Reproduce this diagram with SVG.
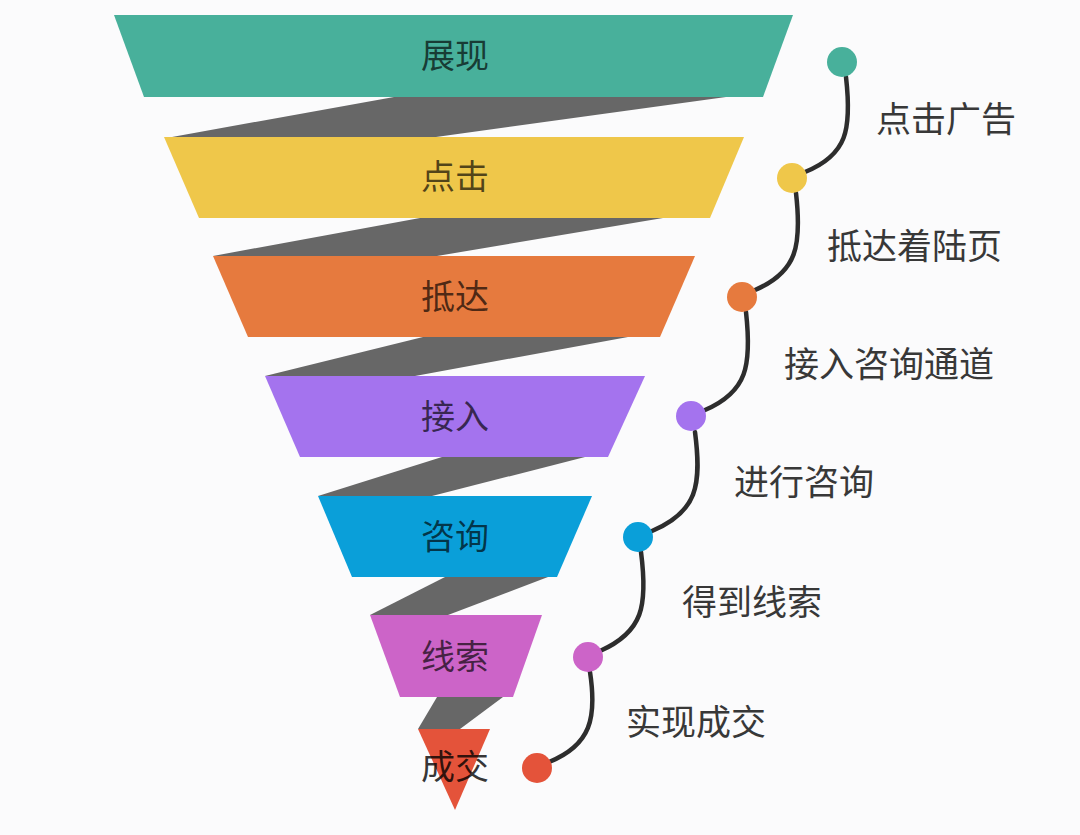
<svg xmlns="http://www.w3.org/2000/svg" width="1080" height="835" viewBox="0 0 1080 835">
  <style>
    .lbl { font-family: "Noto Sans CJK SC", "Noto Sans", sans-serif; font-size: 34px; text-anchor: middle; dominant-baseline: central; fill: #000; fill-opacity: 0.68; }
    .side { font-family: "Noto Sans CJK SC", "Noto Sans", sans-serif; font-size: 35px; text-anchor: start; dominant-baseline: central; fill: #383838; }
    .gray { fill: #676767; }
    .curve { fill: none; stroke: #2d2d2d; stroke-width: 4.5; stroke-linecap: round; }
  </style>
  <rect x="0" y="0" width="1080" height="835" fill="#fbfbfc"/>

  <g id="ribbons">
    <polygon class="gray" points="394,97 726,97 436,137 172,137"/>
    <polygon class="gray" points="420,218 663,218 437,256 213,256"/>
    <polygon class="gray" points="423,337 628,337 415,376 265,376"/>
    <polygon class="gray" points="442,457 585,457 432,496 318,496"/>
    <polygon class="gray" points="445,577 548,577 448,615 370,615"/>
    <polygon class="gray" points="437,697 503,697 460,729 418,729"/>
  </g>

  <g id="stage-zhanxian">
    <polygon points="114,15 793,15 763,97 144,97" fill="#48b09b"/>
    <text class="lbl" x="455" y="53">展现</text>
  </g>
  <g id="stage-dianji">
    <polygon points="164,137 744,137 710,218 199,218" fill="#efc74a"/>
    <text class="lbl" x="455" y="174">点击</text>
  </g>
  <g id="stage-dida">
    <polygon points="213,256 695,256 660,337 248,337" fill="#e67a3e"/>
    <text class="lbl" x="455" y="294">抵达</text>
  </g>
  <g id="stage-jieru">
    <polygon points="265,376 645,376 608,457 300,457" fill="#a473ee"/>
    <text class="lbl" x="455" y="414">接入</text>
  </g>
  <g id="stage-zixun">
    <polygon points="318,496 592,496 557,577 352,577" fill="#0a9fd9"/>
    <text class="lbl" x="455" y="534">咨询</text>
  </g>
  <g id="stage-xiansuo">
    <polygon points="370,615 542,615 513,697 400,697" fill="#cc64c8"/>
    <text class="lbl" x="455" y="654">线索</text>
  </g>
  <g id="stage-chengjiao">
    <polygon points="418,729 490,729 455,810" fill="#e4533a"/>
    <text class="lbl" x="455" y="764" style="fill-opacity:0.8">成交</text>
  </g>

  <g id="connectors">
    <path class="curve" d="M846,77 C852,130 847,155 805,172"/>
    <path class="curve" d="M796,193 C802,246 797,272 755,290"/>
    <path class="curve" d="M746,312 C752,366 747,392 705,410"/>
    <path class="curve" d="M695,432 C702,486 697,512 652,531"/>
    <path class="curve" d="M641,552 C648,606 643,632 600,651"/>
    <path class="curve" d="M590,672 C597,718 591,745 549,762"/>
  </g>

  <g id="step-dianjiguanggao">
    <circle cx="842" cy="62" r="15" fill="#48b09b"/>
    <text class="side" x="876" y="116">点击广告</text>
  </g>
  <g id="step-didazhuoluye">
    <circle cx="792" cy="178" r="15" fill="#efc74a"/>
    <text class="side" x="827" y="243">抵达着陆页</text>
  </g>
  <g id="step-jieruzixuntongdao">
    <circle cx="742" cy="297" r="15" fill="#e67a3e"/>
    <text class="side" x="784" y="361">接入咨询通道</text>
  </g>
  <g id="step-jinxingzixun">
    <circle cx="691" cy="416" r="15" fill="#a473ee"/>
    <text class="side" x="734" y="479">进行咨询</text>
  </g>
  <g id="step-dedaoxiansuo">
    <circle cx="638" cy="537" r="15" fill="#0a9fd9"/>
    <text class="side" x="682" y="599">得到线索</text>
  </g>
  <g id="step-shixianchengjiao">
    <circle cx="588" cy="657" r="15" fill="#cc64c8"/>
    <text class="side" x="626" y="719">实现成交</text>
  </g>
  <g id="step-end">
    <circle cx="537" cy="768" r="15" fill="#e4533a"/>
  </g>
</svg>
